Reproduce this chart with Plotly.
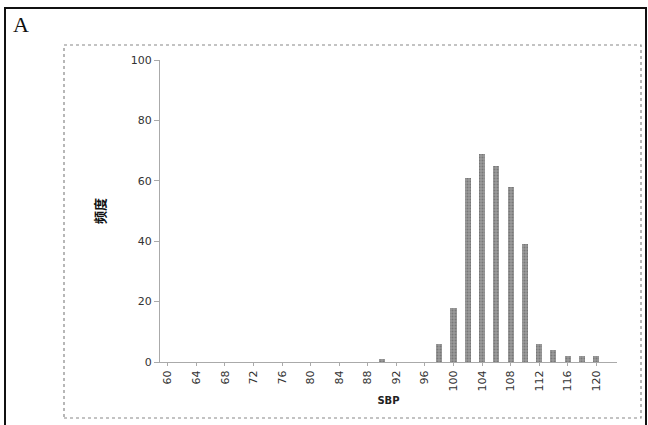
import plotly.graph_objects as go

# SBP histogram (even-valued readings) and their frequencies
sbp = list(range(60, 122, 2))
counts = [0, 0, 0, 0, 0, 0, 0, 0, 0, 0, 0, 0, 0, 0, 0, 1,
          0, 0, 0, 6, 18, 61, 69, 65, 58, 39, 6, 4, 2, 2, 2]
x_ticks = list(range(60, 124, 4))
y_ticks = [0, 20, 40, 60, 80, 100]

W, H = 648, 425
L, R, T, B = 160, 31, 60, 63
PW, PH = W - L - R, H - T - B


def px(x):
    return (x - L) / PW


def py(y):
    return (H - B - y) / PH


fig = go.Figure(
    go.Bar(
        x=sbp,
        y=counts,
        width=0.85,
        marker=dict(
            color="#9a9a9a",
            line=dict(width=0),
            pattern=dict(shape=".", fgcolor="#555555", size=3, solidity=0.35),
        ),
    )
)

axis_font = dict(family="DejaVu Sans", size=11, color="#333333")

fig.update_layout(
    width=W,
    height=H,
    margin=dict(l=L, r=R, t=T, b=B),
    paper_bgcolor="white",
    plot_bgcolor="white",
    showlegend=False,
    bargap=0,
    xaxis=dict(
        range=[58.9, 122.9],
        tickvals=x_ticks,
        ticktext=[str(v) for v in x_ticks],
        tickangle=-90,
        tickfont=axis_font,
        ticks="outside",
        ticklen=3,
        tickcolor="#aaaaaa",
        showline=True,
        linecolor="#aaaaaa",
        linewidth=1,
        showgrid=False,
        zeroline=False,
        title=dict(
            text="<b>SBP</b>",
            font=dict(family="DejaVu Sans", size=10, color="#222222"),
            standoff=6,
        ),
    ),
    yaxis=dict(
        range=[0, 100],
        tickvals=y_ticks,
        tickfont=axis_font,
        ticks="outside",
        ticklen=5,
        tickcolor="#aaaaaa",
        showline=True,
        linecolor="#aaaaaa",
        linewidth=1,
        showgrid=False,
        zeroline=False,
        title=dict(
            text="<b>频度</b>",
            font=dict(family="Noto Sans CJK SC", size=13, color="#111111"),
            standoff=22,
        ),
    ),
    shapes=[
        # outer panel border
        dict(type="rect", xref="paper", yref="paper",
             x0=px(5), x1=px(646), y0=py(440), y1=py(8),
             line=dict(color="#111111", width=2)),
        # inner dotted chart frame
        dict(type="rect", xref="paper", yref="paper",
             x0=px(64), x1=px(641), y0=py(418), y1=py(45),
             line=dict(color="#888888", width=1.2, dash="dot")),
    ],
    annotations=[
        dict(text="A", xref="paper", yref="paper",
             x=px(11), y=py(10), xanchor="left", yanchor="top",
             showarrow=False,
             font=dict(family="Liberation Serif", size=22, color="#111111")),
    ],
)

fig.write_html("out.html")
